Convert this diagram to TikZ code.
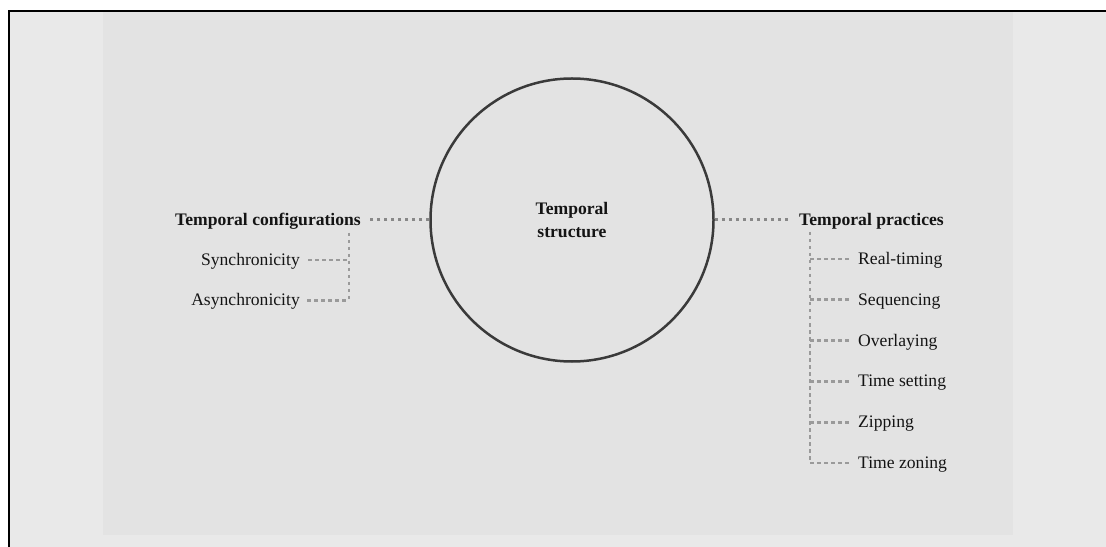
\documentclass[tikz,border=0pt]{standalone}
\usepackage{fontspec}
\setmainfont{Liberation Serif}
\definecolor{pagebg}{HTML}{E9E9E9}
\definecolor{panelbg}{HTML}{E3E3E3}
\definecolor{inkc}{HTML}{141414}
\definecolor{ringc}{HTML}{3A3A3A}
\definecolor{maindot}{HTML}{888888}
\definecolor{branchdot}{HTML}{9A9A9A}
\begin{document}
\begin{tikzpicture}[x=1bp,y=-1bp,
  lbl/.style={font=\fontsize{17.6bp}{23bp}\selectfont, text=inkc,
    text height=11bp, text depth=0bp, inner ysep=0bp},
  head/.style={lbl, font=\fontsize{17.6bp}{23bp}\selectfont\bfseries},
  mainlink/.style={draw=maindot, line width=3bp, dash pattern=on 3.5bp off 3.5bp},
  branchlink/.style={draw=branchdot, line width=2.8bp, dash pattern=on 3.5bp off 3.5bp}]
\useasboundingbox (0,0) rectangle (1106,547);

% page and panel
\fill[white] (0,0) rectangle (1106,547);
\fill[pagebg] (9,10.8) rectangle (1106,547);
\fill[panelbg] (103,10.8) rectangle (1013,535);
\draw[black, line width=1.8bp] (9,547) -- (9,10.8) -- (1106,10.8);

% central circle
\node[circle, draw=ringc, line width=2.5bp, minimum size=283bp, inner sep=0bp,
  align=center, text=inkc, font=\fontsize{17.6bp}{23bp}\selectfont\bfseries]
  (ts) at (572,220) {Temporal\\structure};

% left branch
\node[head, anchor=east, inner xsep=6bp] (conf) at (367,220) {Temporal configurations};
\node[lbl, anchor=east, inner xsep=8bp] (syn) at (308,260) {Synchronicity};
\node[lbl, anchor=east, inner xsep=7bp] (asyn) at (307,300.5) {Asynchronicity};
\coordinate (lv) at (349,233);

\draw[mainlink] (ts.west) -- (ts.west -| conf.east);
\draw[branchlink] (lv) -- (lv |- asyn.east);
\draw[branchlink] (syn.east) -- (syn.east -| lv);
\draw[branchlink] (asyn.east) -- (asyn.east -| lv);

% right branch
\node[head, anchor=west, inner xsep=8bp] (prac) at (791,220) {Temporal practices};
\coordinate (rv) at (810,232);
\node[lbl, anchor=west, inner xsep=6bp] (p1) at (852,259) {Real-timing};
\node[lbl, anchor=west, inner xsep=6bp] (p2) at (852,299.8) {Sequencing};
\node[lbl, anchor=west, inner xsep=6bp] (p3) at (852,340.6) {Overlaying};
\node[lbl, anchor=west, inner xsep=6bp] (p4) at (852,381.4) {Time setting};
\node[lbl, anchor=west, inner xsep=6bp] (p5) at (852,422.2) {Zipping};
\node[lbl, anchor=west, inner xsep=6bp] (p6) at (852,463) {Time zoning};

\draw[mainlink] (ts.east) -- (ts.east -| prac.west);
\draw[branchlink] (rv) -- (rv |- p6.west);
\foreach \n in {p1,p2,p3,p4,p5,p6}
  \draw[branchlink] (rv |- \n.west) -- (\n.west);
\end{tikzpicture}
\end{document}
